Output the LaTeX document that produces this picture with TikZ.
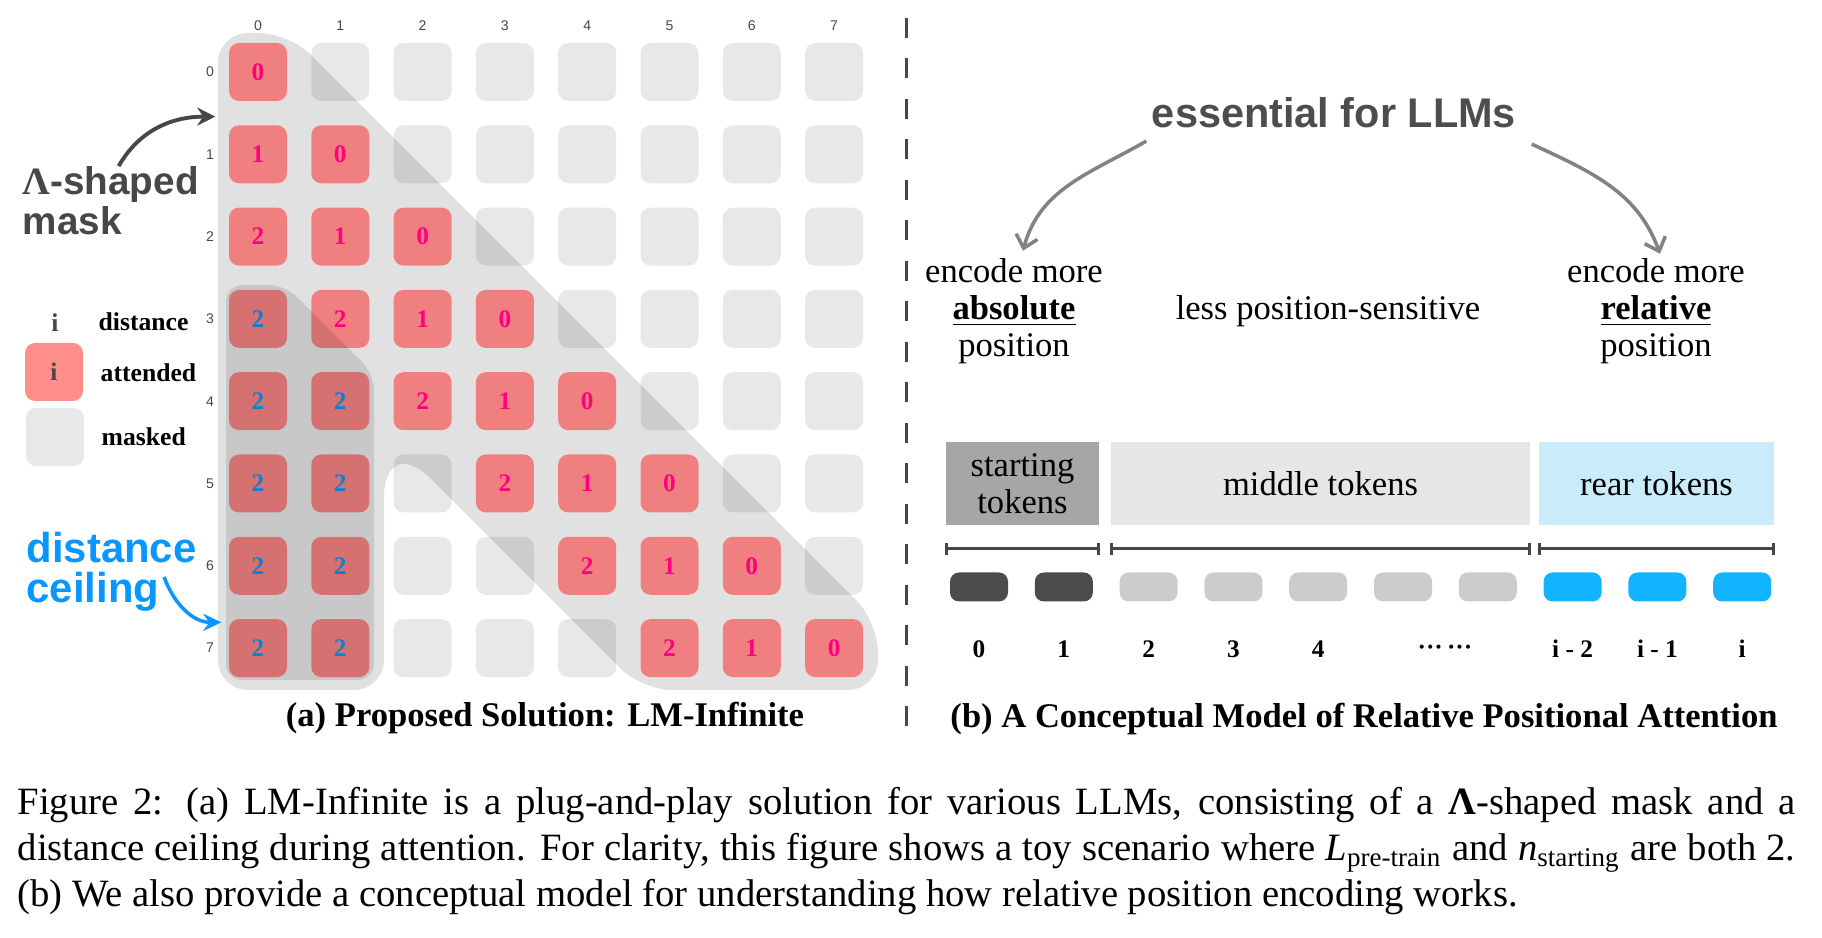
\documentclass[tikz,border=0pt]{standalone}
\usepackage{fontspec}
\setmainfont{Liberation Serif}
\newfontfamily\helvet{Liberation Sans}
\usetikzlibrary{arrows.meta}

\definecolor{cellgray}{HTML}{E8E8E8}
\definecolor{attend}{HTML}{F08080}
\definecolor{attendkey}{HTML}{FF8E8B}
\definecolor{distpink}{HTML}{FF0080}
\definecolor{distblue}{HTML}{128EEE}
\definecolor{ceilblue}{HTML}{0896FF}
\definecolor{maskink}{HTML}{474747}
\definecolor{essgray}{HTML}{4D4D4D}
\definecolor{arcgray}{HTML}{828282}
\definecolor{startgray}{HTML}{A6A6A6}
\definecolor{midgray}{HTML}{E6E6E6}
\definecolor{rearblue}{HTML}{C9ECFB}
\definecolor{tokdark}{HTML}{4B4B4B}
\definecolor{tokmid}{HTML}{CCCCCC}
\definecolor{tokblue}{HTML}{12B4FF}

\begin{document}
\begin{tikzpicture}[
				x=0.1mm, y=-0.1mm,
				every node/.style={inner sep=0pt},
				cell/.style={rectangle, rounded corners=1mm, minimum size=5.8mm, font=\fontsize{7.2}{8}\selectfont\bfseries},
				masked/.style={cell, fill=cellgray},
				attended/.style={cell, fill=attend},
				axis/.style={font=\helvet\fontsize{4}{5}\selectfont, text=maskink},
				keytext/.style={font=\fontsize{7.3}{8}\selectfont\bfseries, anchor=west},
				maskshade/.style={fill=black, fill opacity=0.118},
				ceilshade/.style={fill=black, fill opacity=0.11},
				masknote/.style={font=\helvet\bfseries\fontsize{11}{11.4}\selectfont, text=maskink, align=left, anchor=west},
				ceilnote/.style={font=\helvet\bfseries\fontsize{11.9}{11.4}\selectfont, text=ceilblue, align=left, anchor=west},
				lamarrow/.style={draw=maskink, line width=1.1pt, -{Stealth[length=1.8mm, width=1.8mm]}},
				ceilarrow/.style={draw=ceilblue, line width=1pt, -{Stealth[length=1.8mm, width=1.7mm]}},
				arcarrow/.style={draw=arcgray, line width=1pt, -{Straight Barb[length=1.2mm, width=2.2mm]}},
				divider/.style={draw=maskink, line width=0.3mm, dash pattern=on 2mm off 2.05mm},
				sertext/.style={font=\fontsize{9.84}{10.5}\selectfont, align=center},
				spanbox/.style={rectangle, minimum height=8.3mm, font=\fontsize{9.84}{10.5}\selectfont, align=center},
				bracket/.style={draw=maskink, line width=0.3mm, {Bar[width=1.2mm]}-{Bar[width=1.2mm]}},
				token/.style={rectangle, rounded corners=0.9mm, minimum width=5.8mm, minimum height=2.9mm},
				toklabel/.style={font=\fontsize{7.2}{8}\selectfont\bfseries, anchor=base},
				subcap/.style={font=\fontsize{9.84}{11}\selectfont\bfseries, anchor=base},
				capline/.style={font=\fontsize{11}{13.2}\selectfont, anchor=base west}
				]
				\useasboundingbox (0,0) rectangle (1822,938);
				
				% (a) masked cells, then the mask, then attended cells
				\foreach \r in {0,...,7}{
					\node[axis] (row-\r) at (210, 72+82.3*\r) {\r};
					\node[axis] (col-\r) at (258+82.3*\r, 26) {\r};
					\foreach \c in {0,...,7}{
						\pgfmathtruncatemacro\dist{\r-\c}
						\pgfmathtruncatemacro\keep{(\dist>=0)&&((\dist<=2)||(\c<=1))}
						\ifnum\keep=0
						\node[masked] (c-\c-\r) at (258+82.3*\c, 72+82.3*\r) {};
						\fi
					}
				}
				
				\fill[maskshade, rounded corners=3mm] (218,33) -- (289,33) -- (878,622) -- (878,690) -- (642,690)
				[rounded corners=6.6mm] -- (384,432) [rounded corners=3mm] -- (384,690) -- (218,690) -- cycle;
				
				\foreach \r in {0,...,7}{
					\foreach \c in {0,...,7}{
						\pgfmathtruncatemacro\dist{\r-\c}
						\pgfmathtruncatemacro\keep{(\dist>=0)&&((\dist<=2)||(\c<=1))}
						\ifnum\keep=1
						\pgfmathtruncatemacro\shown{min(\dist,2)}
						\ifnum\dist>2 \def\numcol{distblue}\else\def\numcol{distpink}\fi
						\node[attended, text=\numcol] (c-\c-\r) at (258+82.3*\c, 72+82.3*\r) {\shown};
						\fi
					}
				}
				
				\fill[ceilshade, rounded corners=1.6mm] (226,285) -- (285,285) -- (374,374) -- (374,680) -- (226,680) -- cycle;
				
				% legend
				\node[font=\fontsize{7.3}{8}\selectfont\bfseries, text=maskink] (key-i) at (55,323) {i};
				\node[keytext] (key-dist) at (98,322) {distance};
				\node[cell, fill=attendkey, text=maskink] (key-att) at (54,372) {i};
				\node[keytext] (key-attlbl) at (100,373) {attended};
				\node[masked] (key-mask) at (55,437) {};
				\node[keytext] (key-masklbl) at (101,437) {masked};
				
				\node[masknote] (lambdanote) at (22,201) {{\rmfamily Λ}-shaped\\mask};
				\draw[lamarrow] ([xshift=0.8mm]lambdanote.north) to[out=60, in=180] ([shift={(-13,-8)}]c-0-1.north west);
				
				\node[ceilnote] (ceilnote) at (26,572) {distance\\ceiling};
				\draw[ceilarrow] ([shift={(-33,5)}]ceilnote.east) to[out=-70, in=180] ([shift={(-7,4)}]c-0-7.north west);
				
				\node[subcap] (capa) at (545,727) {(a) Proposed Solution: LM-Infinite};
				
				\draw[divider] (906,18) -- (906,743);
				
				% (b) conceptual model
				\node[font=\helvet\bfseries\fontsize{11.8}{13}\selectfont, text=essgray, anchor=base] (essential) at (1334,128) {essential for LLMs};
				\node[sertext] (absnote) at (1014,311) {encode more\\\underline{\textbf{absolute}}\\position};
				\node[sertext, anchor=base] (midnote) at (1328,320) {less position-sensitive};
				\node[sertext] (relnote) at (1656,311) {encode more\\\underline{\textbf{relative}}\\position};
				\draw[arcarrow] ([shift={(-5,12)}]essential.south west) to[out=210, in=75] ([shift={(9,-7)}]absnote.north);
				\draw[arcarrow] ([shift={(15,15)}]essential.south east) to[out=-25, in=110] ([shift={(4,-4)}]relnote.north);
				
				\node[spanbox, fill=startgray, minimum width=15.3mm] (startbox) at (1022.5,483.5) {starting\\tokens};
				\node[spanbox, fill=midgray, minimum width=41.9mm] (midbox) at (1320.5,483.5) {middle tokens};
				\node[spanbox, fill=rearblue, minimum width=23.5mm] (rearbox) at (1656.5,483.5) {rear tokens};
				\foreach \b in {startbox, midbox, rearbox}
				\draw[bracket] ([yshift=-2.3mm]\b.south west) -- ([yshift=-2.3mm]\b.south east);
				
				\foreach \i/\shade in {0/tokdark, 1/tokdark, 2/tokmid, 3/tokmid, 4/tokmid, 5/tokmid, 6/tokmid, 7/tokblue, 8/tokblue, 9/tokblue}
				\node[token, fill=\shade] (tok-\i) at (979+84.8*\i, 587) {};
				\foreach \i/\lbl in {0/0, 1/1, 2/2, 3/3, 4/4, 7/{i - 2}, 8/{i - 1}, 9/i}
				\node[toklabel] (pos-\i) at (979+84.8*\i, 658) {\lbl};
				\node[toklabel] (pos-dots) at (1445,656) {···\,···};
				
				\node[subcap] (capb) at (1364,728) {(b) A Conceptual Model of Relative Positional Attention};
				
				% caption
				\node[capline] (cap-1) at (17,815) {\makebox[177.8mm][s]{Figure 2: (a) LM-Infinite is a plug-and-play solution for various LLMs, consisting of a \textbf{Λ}-shaped mask and a}};
				\node[capline] (cap-2) at (17,861) {\makebox[177.8mm][s]{distance ceiling during attention. For clarity, this figure shows a toy scenario where \textit{L}\textsubscript{pre-train} and \textit{n}\textsubscript{starting} are both 2.}};
				\node[capline] (cap-3) at (17,907) {(b) We also provide a conceptual model for understanding how relative position encoding works.};
				
			\end{tikzpicture}
\end{document}
